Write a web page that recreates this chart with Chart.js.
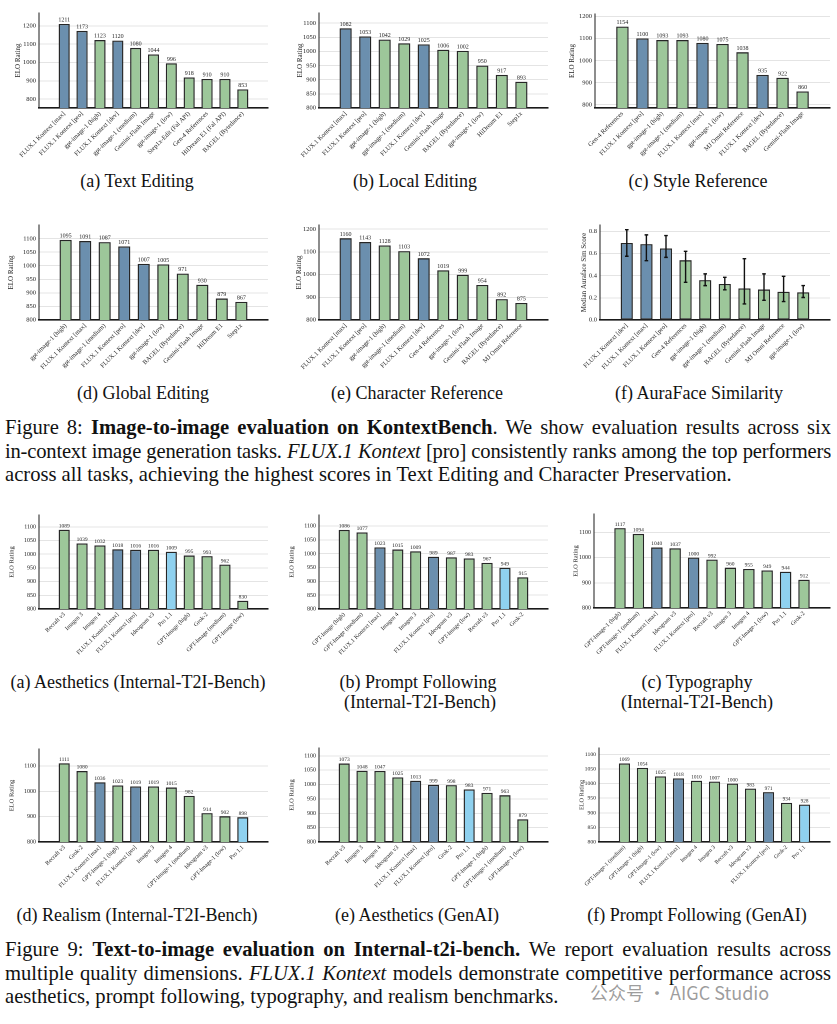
<!DOCTYPE html>
<html><head><meta charset="utf-8">
<script src="https://cdn.jsdelivr.net/npm/chart.js@4.4.1/dist/chart.umd.min.js"></script>
<style>
html,body{margin:0;padding:0;background:#fff;width:837px;height:1024px;overflow:hidden;}
body{position:relative;font-family:"Liberation Serif","Times New Roman",serif;color:#111;}
.box{position:absolute;}
.cap{position:absolute;font-size:18px;line-height:20px;text-align:center;white-space:nowrap;transform:translateX(-50%);}
.fig{position:absolute;left:5px;width:826px;font-size:20.6px;line-height:23px;height:23px;overflow:hidden;}
.fig.j{text-align:justify;text-align-last:justify;}
.fig.t{letter-spacing:-0.2px;word-spacing:-1px;}
.wm{position:absolute;left:590px;top:979px;font-family:"Noto Sans CJK SC",sans-serif;font-size:18px;color:rgba(140,140,140,0.85);white-space:nowrap;}
</style></head><body>

<div class="cap" style="left:137px;top:171px">(a) Text Editing</div>
<div class="cap" style="left:415px;top:171px">(b) Local Editing</div>
<div class="cap" style="left:698px;top:171px">(c) Style Reference</div>
<div class="cap" style="left:143px;top:383px">(d) Global Editing</div>
<div class="cap" style="left:417px;top:383px">(e) Character Reference</div>
<div class="cap" style="left:699px;top:383px">(f) AuraFace Similarity</div>

<div class="fig j" style="top:416px">Figure 8: <b>Image-to-image evaluation on KontextBench</b>. We show evaluation results across six</div>
<div class="fig j t" style="top:440px">in-context image generation tasks. <i>FLUX.1 Kontext</i> [pro] consistently ranks among the top performers</div>
<div class="fig" style="top:463px">across all tasks, achieving the highest scores in Text Editing and Character Preservation.</div>

<div class="cap" style="left:138px;top:672px">(a) Aesthetics (Internal-T2I-Bench)</div>
<div class="cap" style="left:418px;top:672px">(b) Prompt Following</div>
<div class="cap" style="left:420px;top:692px">(Internal-T2I-Bench)</div>
<div class="cap" style="left:697px;top:672px">(c) Typography</div>
<div class="cap" style="left:697px;top:692px">(Internal-T2I-Bench)</div>
<div class="cap" style="left:137px;top:905px">(d) Realism (Internal-T2I-Bench)</div>
<div class="cap" style="left:417px;top:905px">(e) Aesthetics (GenAI)</div>
<div class="cap" style="left:697px;top:905px">(f) Prompt Following (GenAI)</div>

<div class="fig j" style="top:938px">Figure 9: <b>Text-to-image evaluation on Internal-t2i-bench.</b> We report evaluation results across</div>
<div class="fig j" style="top:962px">multiple quality dimensions. <i>FLUX.1 Kontext</i> models demonstrate competitive performance across</div>
<div class="fig" style="top:985px">aesthetics, prompt following, typography, and realism benchmarks.</div>
<div class="wm">公众号 · AIGC Studio</div>

<script>
// ---------------- DATA ----------------
const textEditLabels = ["FLUX.1 Kontext [max]","FLUX.1 Kontext [pro]","gpt-image-1 (high)","FLUX.1 Kontext [dev]","gpt-image-1 (medium)","Gemini-Flash Image","gpt-image-1 (low)","Step1x-Edit (Fal API)","Gen-4 References","HiDream E1 (Fal API)","BAGEL (Bytedance)"];
const textEditValues = [1211,1173,1123,1120,1080,1044,996,918,910,910,853];
const textEditTicks = [800,900,1000,1100,1200];

const localEditLabels = ["FLUX.1 Kontext [max]","FLUX.1 Kontext [pro]","gpt-image-1 (high)","gpt-image-1 (medium)","FLUX.1 Kontext [dev]","Gemini-Flash Image","BAGEL (Bytedance)","gpt-image-1 (low)","HiDream E1","Step1x"];
const localEditValues = [1082,1053,1042,1029,1025,1006,1002,950,917,893];
const localEditTicks = [800,850,900,950,1000,1050,1100];

const styleRefLabels = ["Gen-4 References","FLUX.1 Kontext [pro]","gpt-image-1 (high)","gpt-image-1 (medium)","FLUX.1 Kontext [max]","gpt-image-1 (low)","MJ Omni Reference","FLUX.1 Kontext [dev]","BAGEL (Bytedance)","Gemini-Flash Image"];
const styleRefValues = [1154,1100,1093,1093,1080,1075,1038,935,922,860];
const styleRefTicks = [800,900,1000,1100,1200];

const globalEditLabels = ["gpt-image-1 (high)","FLUX.1 Kontext [max]","gpt-image-1 (medium)","FLUX.1 Kontext [pro]","FLUX.1 Kontext [dev]","gpt-image-1 (low)","BAGEL (Bytedance)","Gemini-Flash Image","HiDream E1","Step1x"];
const globalEditValues = [1095,1091,1087,1071,1007,1005,971,930,879,867];
const globalEditTicks = [800,850,900,950,1000,1050,1100];

const charRefLabels = ["FLUX.1 Kontext [max]","FLUX.1 Kontext [pro]","gpt-image-1 (high)","gpt-image-1 (medium)","FLUX.1 Kontext [dev]","Gen-4 References","gpt-image-1 (low)","Gemini-Flash Image","BAGEL (Bytedance)","MJ Omni Reference"];
const charRefValues = [1160,1143,1128,1103,1072,1019,999,954,892,875];
const charRefTicks = [800,900,1000,1100,1200];

const auraLabels = ["FLUX.1 Kontext [dev]","FLUX.1 Kontext [max]","FLUX.1 Kontext [pro]","Gen-4 References","gpt-image-1 (high)","gpt-image-1 (medium)","BAGEL (Bytedance)","Gemini-Flash Image","MJ Omni Reference","gpt-image-1 (low)"];
const auraValues = [0.695,0.685,0.645,0.54,0.36,0.325,0.285,0.275,0.255,0.25];
const auraLow = [0.575,0.535,0.565,0.34,0.31,0.272,0.145,0.178,0.166,0.203];
const auraHigh = [0.815,0.768,0.762,0.62,0.416,0.385,0.553,0.416,0.394,0.311];
const auraTicks = [0,0.2,0.4,0.6,0.8];

const aesIntLabels = ["Recraft v3","Imagen 3","Imagen 4","FLUX.1 Kontext [max]","FLUX.1 Kontext [pro]","Ideogram v3","Pro 1.1","GPT-Image (high)","Grok-2","GPT-Image (medium)","GPT-Image (low)"];
const aesIntValues = [1089,1039,1032,1018,1016,1016,1009,995,993,962,830];
const aesIntTicks = [800,850,900,950,1000,1050,1100];

const pfIntLabels = ["GPT-Image (high)","GPT-Image (medium)","FLUX.1 Kontext [max]","Imagen 4","Imagen 3","FLUX.1 Kontext [pro]","Ideogram v3","GPT-Image (low)","Recraft v3","Pro 1.1","Grok-2"];
const pfIntValues = [1086,1077,1023,1015,1009,989,987,983,967,949,915];
const pfIntTicks = [800,850,900,950,1000,1050,1100];

const typoLabels = ["GPT-Image-1 (high)","GPT-Image-1 (medium)","FLUX.1 Kontext [max]","Ideogram v3","FLUX.1 Kontext [pro]","Recraft v3","Imagen 3","Imagen 4","GPT-Image-1 (low)","Pro 1.1","Grok-2"];
const typoValues = [1117,1094,1040,1037,1000,992,960,955,949,944,912];
const typoTicks = [800,900,1000,1100];

const realLabels = ["Recraft v3","Grok-2","FLUX.1 Kontext [max]","GPT-Image-1 (high)","FLUX.1 Kontext [pro]","Imagen 3","Imagen 4","GPT-Image-1 (medium)","Ideogram v3","GPT-Image-1 (low)","Pro 1.1"];
const realValues = [1111,1080,1036,1023,1019,1019,1015,982,914,902,898];
const realTicks = [800,900,1000,1100];

const aesGenLabels = ["Recraft v3","Imagen 3","Imagen 4","Ideogram v3","FLUX.1 Kontext [max]","FLUX.1 Kontext [pro]","Grok-2","Pro 1.1","GPT-Image-1 (high)","GPT-Image-1 (medium)","GPT-Image-1 (low)"];
const aesGenValues = [1073,1048,1047,1025,1013,999,998,983,971,963,879];
const aesGenTicks = [800,850,900,950,1000,1050,1100];

const pfGenLabels = ["GPT-Image-1 (medium)","GPT-Image-1 (high)","GPT-Image-1 (low)","FLUX.1 Kontext [max]","Imagen 4","Imagen 3","Recraft v3","Ideogram v3","FLUX.1 Kontext [pro]","Grok-2","Pro 1.1"];
const pfGenValues = [1069,1054,1025,1018,1010,1007,1000,983,971,934,928];
const pfGenTicks = [800,850,900,950,1000,1050,1100];

// ---------------- STYLE / PLUGINS ----------------
const BLUE = '#6b8fae', GREEN = '#9dc79a', LIGHT = '#8fd1ef';
function colorFor(lbl){
  if (lbl.indexOf('FLUX.1 Kontext') === 0) return BLUE;
  if (lbl === 'Pro 1.1') return LIGHT;
  return GREEN;
}
const FONT = 'Liberation Serif';

const valueLabelPlugin = {
  id: 'valueLabels',
  afterDatasetsDraw(chart, args, opts){
    if (!opts.show) return;
    const ctx = chart.ctx, meta = chart.getDatasetMeta(0), ds = chart.data.datasets[0];
    ctx.save();
    ctx.font = opts.size + 'px "' + FONT + '"';
    ctx.fillStyle = '#222'; ctx.textAlign = 'center'; ctx.textBaseline = 'bottom';
    meta.data.forEach((bar, i) => ctx.fillText(String(ds.data[i].y), bar.x, bar.y - 1));
    ctx.restore();
  }
};
const errorBarPlugin = {
  id: 'errorBars',
  afterDatasetsDraw(chart, args, opts){
    if (!opts.lo) return;
    const ctx = chart.ctx, meta = chart.getDatasetMeta(0), ys = chart.scales.y;
    ctx.save(); ctx.strokeStyle = '#111'; ctx.lineWidth = 1.4;
    meta.data.forEach((bar, i) => {
      const y1 = ys.getPixelForValue(opts.lo[i]), y2 = ys.getPixelForValue(opts.hi[i]);
      ctx.beginPath();
      ctx.moveTo(bar.x, y1); ctx.lineTo(bar.x, y2);
      ctx.moveTo(bar.x - 1.8, y1); ctx.lineTo(bar.x + 1.8, y1);
      ctx.moveTo(bar.x - 1.8, y2); ctx.lineTo(bar.x + 1.8, y2);
      ctx.stroke();
    });
    ctx.restore();
  }
};

function build(spec){
  const {L, T, R, B, tOff, fs, yMin, yMax, labels, values, ticks, yTitle, lo, hi, noValues, fmt} = spec;
  const cl = L - 48, ct = T - 12, w = R + 6 - cl, h = B + 62 - ct;
  const div = document.createElement('div');
  div.className = 'box';
  div.style.cssText = `left:${cl}px;top:${ct}px;width:${w}px;height:${h}px`;
  const cv = document.createElement('canvas');
  div.appendChild(cv); document.body.appendChild(div);
  const n = labels.length, m = 0.3 + 0.05 * (n - 1 + 0.6);
  const tfs = fs + 0.5;
  const titleCenter = (L - cl) - tOff;
  new Chart(cv, {
    type: 'bar',
    data: { datasets: [{
      data: values.map((v, i) => ({x: i, y: v})),
      backgroundColor: labels.map(colorFor),
      borderColor: '#262626', borderWidth: 1.3, borderSkipped: false,
      barPercentage: 0.62, categoryPercentage: 1
    }]},
    options: {
      responsive: true, maintainAspectRatio: false, animation: false, devicePixelRatio: 2,
      layout: { padding: { top: 12, left: 0, right: 6, bottom: 0 } },
      plugins: {
        legend: { display: false }, tooltip: { enabled: false },
        valueLabels: { show: !noValues, size: fs - 0.5 },
        errorBars: { lo: lo, hi: hi }
      },
      scales: {
        x: {
          type: 'linear', min: -m, max: n - 1 + m,
          grid: { display: false, drawTicks: false },
          border: { color: '#1a1a1a', width: 1.6 },
          afterBuildTicks: s => { s.ticks = labels.map((_, i) => ({value: i})); },
          afterFit: s => { s.height = 62; s.paddingLeft = 0; s.paddingRight = 0; },
          ticks: { autoSkip: false, minRotation: 45, maxRotation: 45, padding: 2, color: '#222',
                   font: { family: FONT, size: fs }, callback: v => labels[v] }
        },
        y: {
          min: yMin, max: yMax,
          afterBuildTicks: s => { s.ticks = ticks.map(v => ({value: v})); },
          afterFit: s => { s.width = L - cl; s.paddingTop = 0; s.paddingBottom = 0; },
          grid: { color: '#e4e4e4', lineWidth: 1, drawTicks: false },
          border: { color: '#1a1a1a', width: 1 },
          ticks: { padding: 3, color: '#222', font: { family: FONT, size: fs }, callback: fmt || (v => v) },
          title: { display: true, text: yTitle || 'ELO Rating', color: '#222',
                   font: { family: FONT, size: tfs }, padding: { top: titleCenter - tfs * 0.6, bottom: 0 } }
        }
      }
    },
    plugins: [valueLabelPlugin, errorBarPlugin]
  });
}

// ---------------- CHARTS ----------------
build({L:39, T:13, R:268, B:108, tOff:21, fs:6.5, yMin:751, yMax:1271, labels:textEditLabels, values:textEditValues, ticks:textEditTicks});
build({L:319, T:13, R:548, B:108, tOff:19, fs:6.5, yMin:800, yMax:1136, labels:localEditLabels, values:localEditValues, ticks:localEditTicks});
build({L:595, T:14, R:830, B:108, tOff:23, fs:6.5, yMin:785, yMax:1211, labels:styleRefLabels, values:styleRefValues, ticks:styleRefTicks});

build({L:39, T:225, R:268, B:320, tOff:28, fs:6.5, yMin:800, yMax:1150, labels:globalEditLabels, values:globalEditValues, ticks:globalEditTicks});
build({L:319, T:225, R:548, B:320, tOff:20, fs:6.5, yMin:800, yMax:1218, labels:charRefLabels, values:charRefValues, ticks:charRefTicks});
build({L:600, T:225, R:830, B:320, tOff:16, fs:6.5, yMin:0, yMax:0.857, labels:auraLabels, values:auraValues, ticks:auraTicks,
       yTitle:'Median Auraface Sim Score', lo:auraLow, hi:auraHigh, noValues:true, fmt:v => v.toFixed(1)});

build({L:39, T:515, R:268, B:609, tOff:27, fs:6, yMin:800, yMax:1143, labels:aesIntLabels, values:aesIntValues, ticks:aesIntTicks});
build({L:319, T:515, R:548, B:609, tOff:27, fs:6, yMin:800, yMax:1140, labels:pfIntLabels, values:pfIntValues, ticks:pfIntTicks});
build({L:594, T:514, R:830, B:608, tOff:18, fs:6, yMin:800, yMax:1173, labels:typoLabels, values:typoValues, ticks:typoTicks});

build({L:39, T:749, R:268, B:842, tOff:27, fs:6, yMin:800, yMax:1167, labels:realLabels, values:realValues, ticks:realTicks});
build({L:319, T:748, R:548, B:842, tOff:27, fs:6, yMin:800, yMax:1127, labels:aesGenLabels, values:aesGenValues, ticks:aesGenTicks});
build({L:599, T:748, R:830, B:842, tOff:17, fs:5.7, yMin:800, yMax:1122, labels:pfGenLabels, values:pfGenValues, ticks:pfGenTicks});
</script>
</body></html>
